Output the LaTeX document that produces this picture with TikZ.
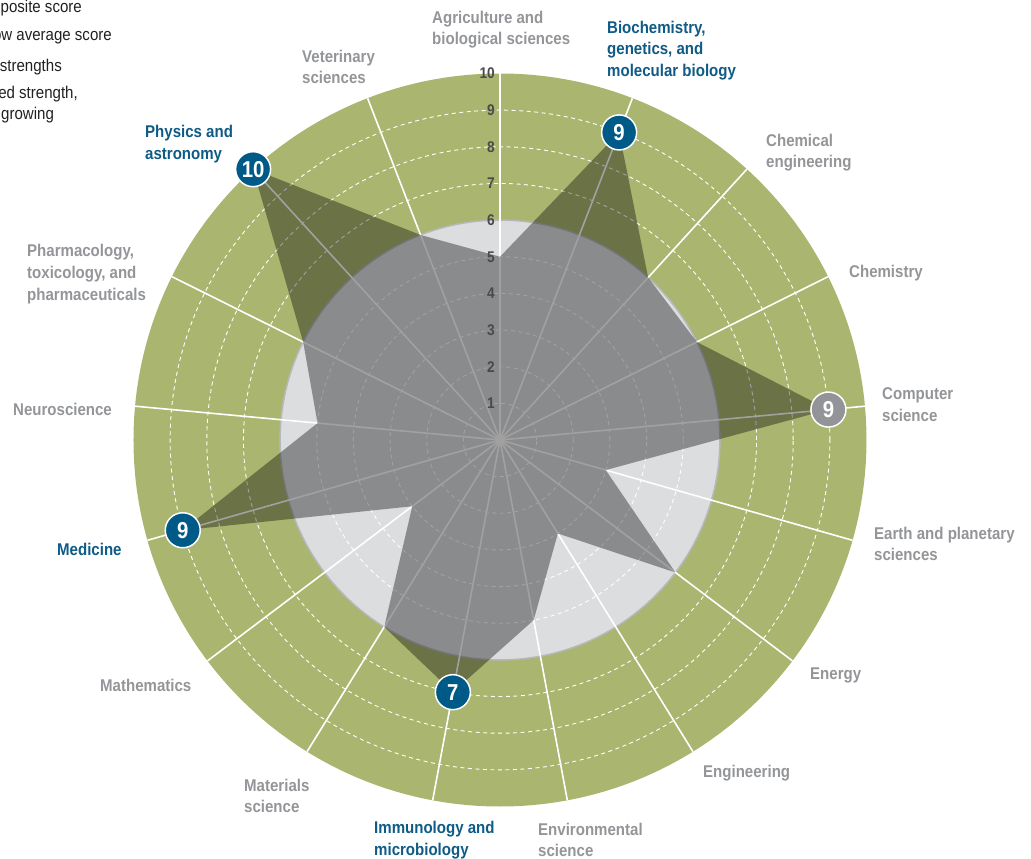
\documentclass[tikz,border=0pt]{standalone}
\usepackage{fontspec}
\setmainfont{Liberation Sans}[FakeStretch=0.885]
\definecolor{ringgreen}{HTML}{AAB56F}
\definecolor{coregray}{HTML}{DCDDDF}
\definecolor{coreedge}{HTML}{B7B8BB}
\definecolor{labelgray}{HTML}{939598}
\definecolor{labelblue}{HTML}{0F5B86}
\definecolor{markblue}{HTML}{005A87}
\definecolor{markgray}{HTML}{939498}
\definecolor{scalegray}{HTML}{4A4A4D}
\definecolor{legendblack}{HTML}{231F20}
\newcommand{\scoreunit}{36.65}

\begin{document}
\begin{tikzpicture}[
    x=1pt, y=1pt,
    spoke/.style={white,line width=1.6pt},
    ring/.style={white,line width=0.9pt,dash pattern=on 4pt off 3.5pt},
    spider/.style={fill=black,fill opacity=0.37},
    scalenum/.style={font=\fontsize{15.5}{16}\selectfont\bfseries,text=scalegray,anchor=east,inner sep=0},
    scoremark/.style={circle,draw=white,line width=1.5pt,fill=markblue,text=white,minimum size=35pt,inner sep=0,font=\fontsize{23}{23}\selectfont\bfseries},
    field/.style={font=\fontsize{17}{21.7}\selectfont\bfseries,text=labelgray,align=left,anchor=west,inner sep=0},
    keyfield/.style={field,text=labelblue},
    legendline/.style={font=\fontsize{17}{20}\selectfont,text=legendblack,anchor=east,inner sep=0},
  ]
\useasboundingbox (-500,-419) rectangle (531,440);

\fill[ringgreen] (0,0) circle[radius={10*\scoreunit}];
\filldraw[fill=coregray,draw=coreedge,line width=1.5pt] (0,0) circle[radius={6*\scoreunit}];
\foreach \k in {1,2,3,4,5,7,8,9}
  \draw[ring] (0,0) circle[radius={\k*\scoreunit}];
\foreach \i in {0,...,16}
  \draw[spoke] (0,0) -- ({90-\i*360/17}:{10*\scoreunit});

\fill[spider] (90:{5*\scoreunit})
  -- ({90-1*360/17}:{9*\scoreunit})
  -- ({90-2*360/17}:{6*\scoreunit})
  -- ({90-3*360/17}:{6*\scoreunit})
  -- ({90-4*360/17}:{9*\scoreunit})
  -- ({90-5*360/17}:{3*\scoreunit})
  -- ({90-6*360/17}:{6*\scoreunit})
  -- ({90-7*360/17}:{3*\scoreunit})
  -- ({90-8*360/17}:{5*\scoreunit})
  -- ({90-9*360/17}:{7*\scoreunit})
  -- ({90-10*360/17}:{6*\scoreunit})
  -- ({90-11*360/17}:{3*\scoreunit})
  -- ({90-12*360/17}:{9*\scoreunit})
  -- ({90-13*360/17}:{5*\scoreunit})
  -- ({90-14*360/17}:{6*\scoreunit})
  -- ({90-15*360/17}:{10*\scoreunit})
  -- ({90-16*360/17}:{6*\scoreunit})
  -- cycle;

\foreach \k in {1,...,10}
  \node[scalenum] (scale\k) at (-5,{\k*\scoreunit}) {\k};

\node[scoremark] (biochem score) at ({90-1*360/17}:{9*\scoreunit}) {9};
\node[scoremark,fill=markgray] (computer score) at ({90-4*360/17}:{9*\scoreunit}) {9};
\node[scoremark] (immuno score) at ({90-9*360/17}:{7*\scoreunit}) {7};
\node[scoremark] (medicine score) at ({90-12*360/17}:{9*\scoreunit}) {9};
\node[scoremark] (physics score) at ({90-15*360/17}:{10*\scoreunit}) {10};

\node[field] (agriculture) at (-68,410.5) {Agriculture and\\biological sciences};
\node[keyfield] (biochem) at (107,389.5) {Biochemistry,\\genetics, and\\molecular biology};
\node[field] (chemical engineering) at (266,287.5) {Chemical\\engineering};
\node[field] (chemistry) at (349,166.5) {Chemistry};
\node[field] (computer) at (382,35) {Computer\\science};
\node[field] (earth) at (374,-104) {Earth and planetary\\sciences};
\node[field] (energy) at (310,-235.5) {Energy};
\node[field] (engineering) at (203,-333.5) {Engineering};
\node[field] (environmental) at (38,-400) {Environmental\\science};
\node[keyfield] (immuno) at (-126,-400) {Immunology and\\microbiology};
\node[field] (materials) at (-256,-356) {Materials\\science};
\node[field] (mathematics) at (-400,-245.5) {Mathematics};
\node[keyfield] (medicine) at (-443,-109.5) {Medicine};
\node[field] (neuroscience) at (-487,30.5) {Neuroscience};
\node[field] (pharmacology) at (-473,166) {Pharmacology,\\toxicology, and\\pharmaceuticals};
\node[keyfield] (physics) at (-355,296) {Physics and\\astronomy};
\node[field] (veterinary) at (-198,373) {Veterinary\\sciences};

\node[legendline] (composite) at (-418,432) {Composite score};
\node[legendline] (below average) at (-388,404) {Below average score};
\node[legendline] (strengths) at (-438,373) {Key strengths};
\node[legendline] (established) at (-422,346) {Established strength,};
\node[legendline,anchor=west] (growing) at (-499,325) {growing};
\end{tikzpicture}
\end{document}
